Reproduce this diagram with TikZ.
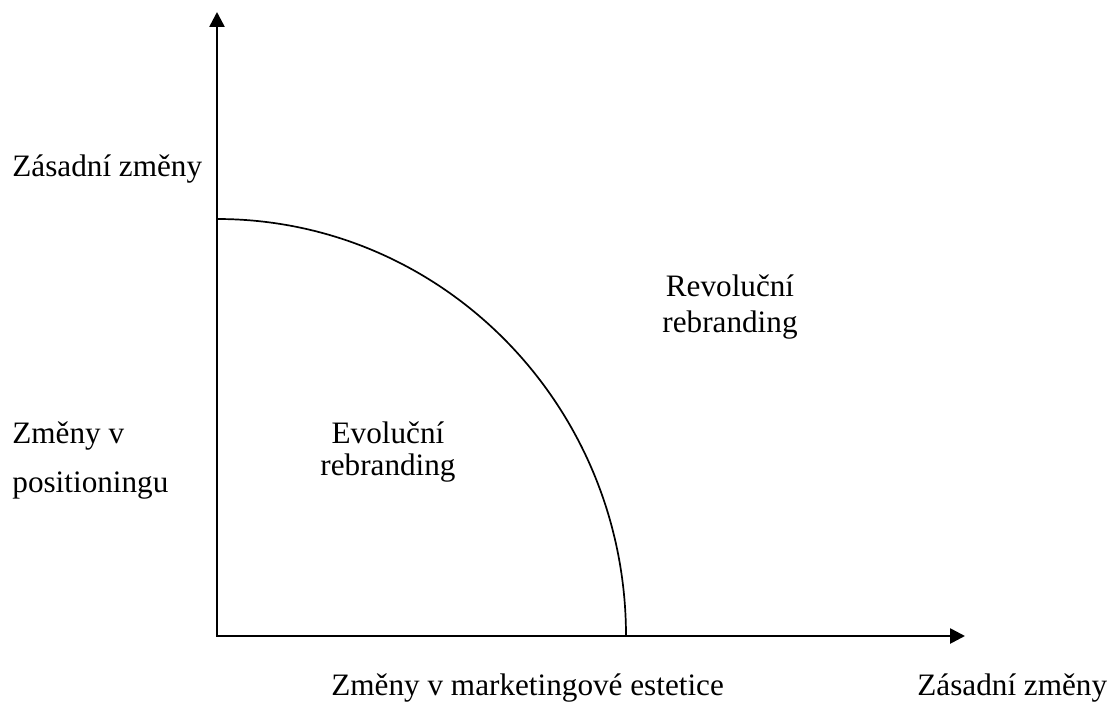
\documentclass[tikz,border=0pt]{standalone}
\usepackage{fontspec}
\setmainfont{Liberation Serif}
\usetikzlibrary{arrows.meta}
\begin{document}
\begin{tikzpicture}[x=0.5pt,y=-0.5pt,
  lbl/.style={inner sep=0pt,font=\fontsize{15.6}{19}\selectfont},
  axis/.style={line width=1.3pt,{Triangle[length=7.5pt,width=7.5pt]}-{Triangle[length=7.5pt,width=7.5pt]}},
  curve/.style={line width=0.85pt}]
\useasboundingbox (0,0) rectangle (1111,701);
\coordinate (ytip) at (217,12);
\coordinate (origin) at (217,636);
\coordinate (xtip) at (965,636);
\coordinate (arctop) at (217,219);
\draw[axis] (ytip) -- (origin) -- (xtip);
\draw[curve] (arctop) arc[start angle=90,end angle=0,x radius=204.5pt,y radius=208.5pt];
\node[lbl,anchor=base west] (ytop) at (12,176) {Zásadní změny};
\node[lbl,anchor=base west] (ymid1) at (12,443) {Změny v};
\node[lbl,anchor=base west] (ymid2) at (12,492) {positioningu};
\node[lbl,anchor=base] (evo1) at (388,443) {Evoluční};
\node[lbl,anchor=base] (evo2) at (388,475) {rebranding};
\node[lbl,anchor=base] (rev1) at (730,296) {Revoluční};
\node[lbl,anchor=base] (rev2) at (730,332) {rebranding};
\node[lbl,anchor=base west] (xmid) at (331,695) {Změny v marketingové estetice};
\node[lbl,anchor=base west] (xend) at (917,695) {Zásadní změny};
\end{tikzpicture}
\end{document}
